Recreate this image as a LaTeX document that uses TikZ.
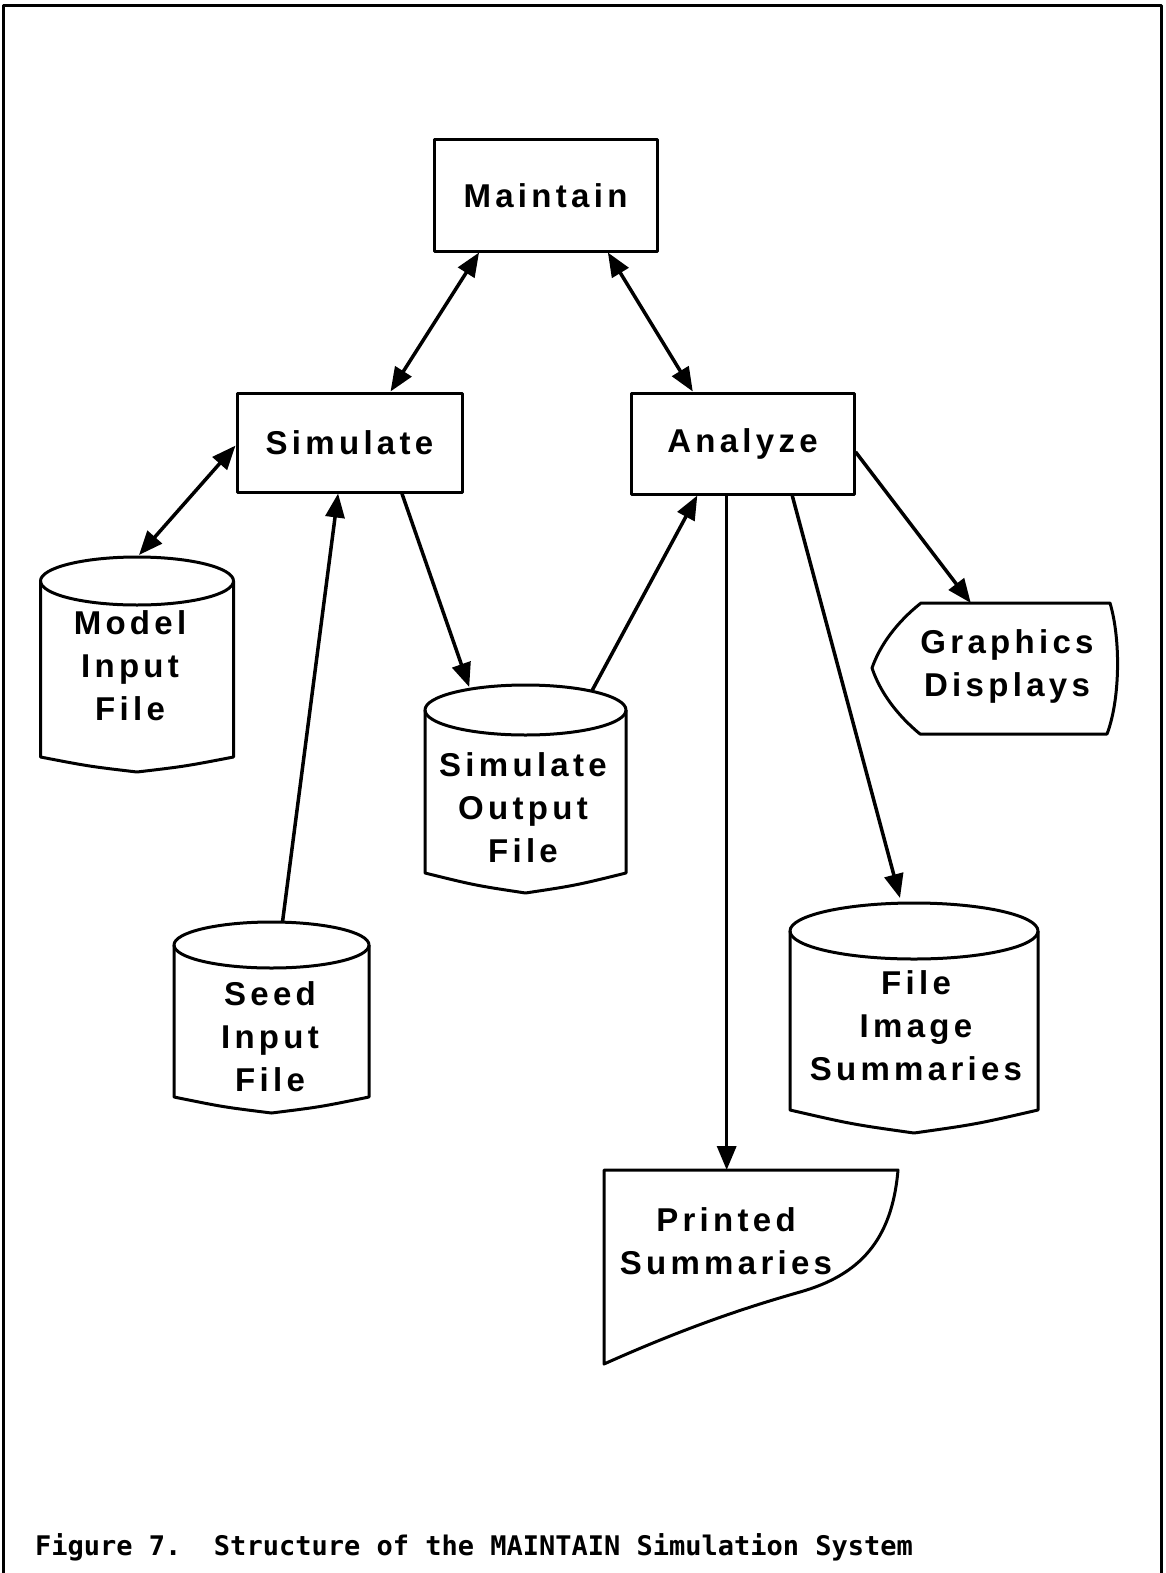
\documentclass[tikz,border=0pt]{standalone}
\usepackage{fontspec}
\newfontfamily\labfont[LetterSpace=13]{Liberation Sans}
\newfontfamily\capfont{DejaVu Sans Mono}
\usetikzlibrary{arrows.meta,calc}

\tikzset{
  ink/.style={line width=3pt, line join=round},
  boxfont/.style={font=\labfont\bfseries\fontsize{33}{43}\selectfont},
  procbox/.style={draw, ink, rectangle, inner sep=0pt, boxfont},
  drumtext/.style={align=center, inner sep=0pt, boxfont},
  hold/.style={rectangle, inner sep=0pt, outer sep=0pt},
  arr/.style={line width=3.5pt, -{Triangle[length=24pt,width=19pt]}},
  biarr/.style={line width=3.5pt, {Triangle[length=24pt,width=19pt]}-{Triangle[length=24pt,width=19pt]}},
}

% storage drum: name, centre x, top of lid, bottom of sides, half width, lid radius, dip of the base
\newcommand\storagedrum[7]{%
  \node[hold, minimum width={2*#5}, minimum height={#4+#7-#3}] (#1) at (#2,{(#3+#4+#7)/2}) {};
  \draw[ink] (#2,{#3+#6}) ellipse [x radius=#5, y radius=#6];
  \draw[ink] ({#2-#5},{#3+#6}) -- ({#2-#5},#4)
     .. controls ({#2-0.5*#5},{#4+0.62*#7}) .. (#2,{#4+#7})
     .. controls ({#2+0.5*#5},{#4+0.62*#7}) .. ({#2+#5},#4) -- ({#2+#5},{#3+#6});
}

\begin{document}
\begin{tikzpicture}[x=1pt,y=-1pt]
  \useasboundingbox (0,0) rectangle (1165,1573);
  \fill[white] (0,0) rectangle (1165,1573);

  % page frame, open at the bottom
  \draw[ink] (3,1573) -- (3,6) -- (1161,6) -- (1161,1573);

  % programs
  \node[procbox, minimum width=223pt, minimum height=111pt] (maintain) at (545.5,195.5) {Maintain};
  \node[procbox, minimum width=225pt, minimum height=99pt]  (simulate) at (349.5,442.5) {Simulate};
  \node[procbox, minimum width=223pt, minimum height=101pt] (analyze)  at (742.5,443.5) {Analyze};

  % files
  \storagedrum{model}{137}{557}{757}{96.5}{24}{15}
  \node[drumtext] (modeltext) at (130,666) {Model\\Input\\File};

  \storagedrum{simout}{525.5}{685}{873}{100.5}{25}{20}
  \node[drumtext] (simouttext) at (523,808) {Simulate\\Output\\File};

  \storagedrum{seed}{271.5}{922}{1097}{97.5}{23}{16}
  \node[drumtext] (seedtext) at (270,1037) {Seed\\Input\\File};

  \storagedrum{fileimg}{914}{903}{1110}{124}{28}{23}
  \node[drumtext] (fileimgtext) at (916,1026) {File\\Image\\Summaries};

  % display
  \node[hold, minimum width=247pt, minimum height=131pt] (graphics) at (995.5,668.5) {};
  \draw[ink] (921,603) -- (1110,603) .. controls (1121,640) and (1120,700) .. (1107,734)
     -- (920,734) .. controls (897,715) and (880,692) .. (872,668)
     .. controls (880,645) and (897,622) .. (921,603) -- cycle;
  \node[drumtext] (graphicstext) at (1007,666) {Graphics\\Displays};

  % printed document
  \node[hold, minimum width=294pt, minimum height=194pt] (printed) at (751,1267) {};
  \draw[ink] (604,1170) -- (898,1170) .. controls (892,1240) and (860,1275) .. (800,1292)
     .. controls (740,1309) and (680,1330) .. (604,1364) -- cycle;
  \node[drumtext] (printedtext) at (726,1241) {Printed\\Summaries};

  % connections
  \draw[biarr] ($(maintain.south west)!.206!(maintain.south east)$) -- ($(simulate.north west)!.68!(simulate.north east)$);
  \draw[biarr] ($(maintain.south west)!.776!(maintain.south east)$) -- ($(analyze.north west)!.28!(analyze.north east)$);
  \draw[biarr] ($(simulate.north west)!.53!(simulate.south west)$) -- ($(model.north)+(2,-2)$);
  \draw[arr] ($(seed.north)+(11,0)$) -- ($(simulate.south west)!.45!(simulate.south east)$);
  \draw[arr] ($(simulate.south west)!.73!(simulate.south east)$) -- ($(simout.north west)!.22!(simout.north east)+(0,2)$);
  \draw[arr] ($(simout.north west)!.83!(simout.north east)+(0,6)$) -- ($(analyze.south west)!.30!(analyze.south east)$);
  \coordinate (printfeed) at ($(analyze.south west)!.43!(analyze.south east)$);
  \draw[arr] (printfeed) -- (printfeed |- printed.north);
  \draw[arr] ($(analyze.south west)!.72!(analyze.south east)$) -- ($(fileimg.north)+(-14,-5)$);
  \draw[arr] ($(analyze.north east)!.58!(analyze.south east)$) -- ($(graphics.north west)!.4!(graphics.north east)$);

  % caption
  \node[anchor=base west, inner sep=0pt, font=\capfont\bfseries\fontsize{27}{32}\selectfont\frenchspacing]
    (caption) at (35,1555) {Figure 7.\ \ Structure of the MAINTAIN Simulation System};
\end{tikzpicture}
\end{document}
